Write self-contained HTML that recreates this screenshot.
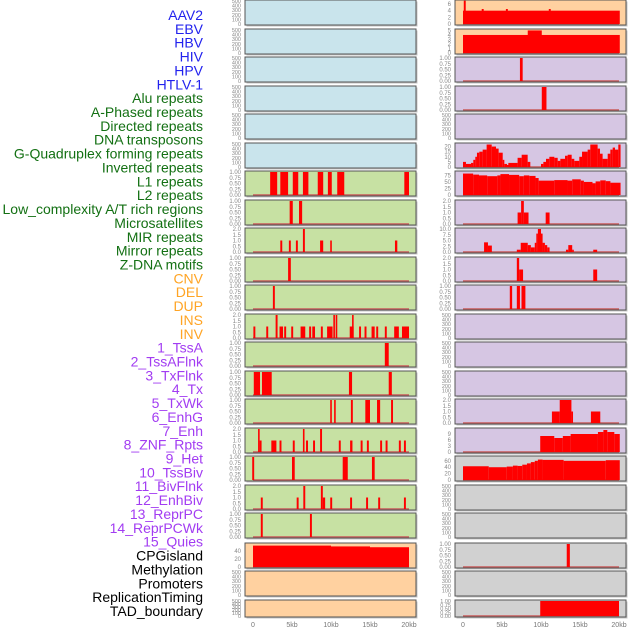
<!DOCTYPE html>
<html><head><meta charset="utf-8"><style>
html,body{margin:0;padding:0;background:#fff;width:630px;height:630px;overflow:hidden}
svg{display:block;font-family:"Liberation Sans",sans-serif}
</style></head><body>
<svg id="chart" width="630" height="630" viewBox="0 0 630 630" xmlns="http://www.w3.org/2000/svg">
<g id="labels"></g>
<g id="panels"></g>
<g id="xaxis"></g>
</svg>
<script>
// ---- data ----
const trackLabels = ["AAV2","EBV","HBV","HIV","HPV","HTLV-1","Alu repeats","A-Phased repeats","Directed repeats","DNA transposons","G-Quadruplex forming repeats","Inverted repeats","L1 repeats","L2 repeats","Low_complexity A/T rich regions","Microsatellites","MIR repeats","Mirror repeats","Z-DNA motifs","CNV","DEL","DUP","INS","INV","1_TssA","2_TssAFlnk","3_TxFlnk","4_Tx","5_TxWk","6_EnhG","7_Enh","8_ZNF_Rpts","9_Het","10_TssBiv","11_BivFlnk","12_EnhBiv","13_ReprPC","14_ReprPCWk","15_Quies","CPGisland","Methylation","Promoters","ReplicationTiming","TAD_boundary"];
const labelGroups = [6,13,5,15,5];
const groupColors = ["#2222ee","#137013","#ffa424","#a23cf2","#000000"];
const xTickValues = [0,5,10,15,20];
const xTickLabels = ["0","5kb","10kb","15kb","20kb"];

// segments: [startKb, endKb, value]
const leftRow7 = [[2.2,3.1,1],[3.5,4.5,1],[5.1,5.8,1],[6.4,7.1,1],[8.3,9.0,1],[9.6,10.1,1],[10.8,11.7,1],[19.4,20.0,1]];
const leftRow8 = [[4.7,5.1,1],[5.9,6.3,1]];
const leftRow9 = [[3.5,3.75,1],[4.6,4.85,1],[5.5,5.75,1],[6.4,6.65,2],[8.6,9.0,1],[9.9,10.1,1],[18.2,18.5,1]];
const leftRow10 = [[4.5,4.85,1]];
const leftRow11 = [[2.55,2.8,1]];
const leftRow12 = [[0.05,0.3,1],[1.7,1.95,1],[2.9,3.15,2],[3.4,3.85,1],[4.0,4.25,1],[4.9,5.15,1],[6.1,6.7,1],[7.2,7.45,1],[7.6,7.95,1],[8.7,8.95,1],[9.5,10.2,1],[10.3,10.5,2],[10.6,10.8,2],[12.4,12.9,1],[12.7,12.9,2],[13.6,13.85,1],[14.3,14.55,1],[15.2,15.6,1],[15.8,16.05,1],[16.9,17.15,1],[18.1,18.7,1],[19.1,20.0,1]];
const leftRow13 = [[16.9,17.4,1]];
const leftRow14 = [[0.1,0.9,1],[1.15,2.4,1],[12.3,12.7,1],[17.4,17.8,1]];
const leftRow15 = [[9.9,10.1,1],[10.4,10.6,1],[12.55,12.8,1],[14.4,15.0,1],[15.9,16.3,1],[17.7,17.95,1]];
const leftRow16 = [[0.65,0.85,2],[0.85,1.1,1],[2.35,3.0,1],[3.4,3.65,1],[5.1,5.35,1],[6.4,6.6,2],[6.8,7.05,1],[7.7,7.95,1],[8.6,8.85,2],[11.0,11.25,1],[12.45,12.75,1],[13.8,14.05,1],[14.6,14.85,1],[16.3,16.55,1],[17.0,17.25,1],[18.7,18.95,1],[19.35,19.6,1]];
const leftRow17 = [[-0.1,0.15,1],[5.0,5.35,1],[11.5,12.15,1],[15.25,15.6,1]];
const leftRow18 = [[1.0,1.25,1],[5.6,5.85,1],[6.45,6.7,2],[8.7,8.95,2],[8.95,9.25,1],[9.9,10.15,1],[12.45,12.7,1],[14.5,14.75,1],[16.05,16.3,1],[19.35,19.6,1]];
const leftRow19 = [[1.0,1.25,1],[7.3,7.55,1]];
const leftCpg = [[0,10,53],[10,15,51],[15,20,49]];

const rightAav2 = [[0,20.1,4],[0.1,0.35,7],[2.4,2.65,4.5],[5.5,5.75,4.5],[11.0,11.25,4.5]];
const rightEbv = [[0,20.1,4],[8.3,10.1,5]];
const rightHiv = [[7.3,7.65,1]];
const rightHpv = [[10.1,10.7,1]];
const rightG4 = [[0,0.38,5],[0.38,1.03,3],[1.03,1.32,4],[1.32,1.58,7],[1.58,1.79,10],[1.79,2.09,14],[2.09,2.52,15],[2.52,3.03,17],[3.03,3.68,22],[3.68,4.23,20],[4.23,4.57,18],[4.57,5.09,14],[5.09,5.3,7],[5.3,5.64,3],[5.64,5.81,2],[5.81,7.0,4],[7.0,7.52,9],[7.52,8.29,12],[8.29,8.63,5],[10.0,10.3,3],[10.3,10.64,5],[10.64,11.07,8],[11.07,11.71,10],[11.71,12.14,9],[12.14,12.48,6],[12.48,13.08,8],[13.08,13.42,11],[13.42,13.93,12],[13.93,14.27,8],[14.27,14.91,6],[14.91,15.26,10],[15.26,15.98,15],[15.98,16.32,17],[16.32,17.26,22],[17.26,17.56,18],[17.56,17.9,13],[17.9,18.55,8],[18.55,18.89,13],[18.89,19.19,17],[19.19,19.49,19],[19.49,19.91,17],[19.91,20.2,22]];
const rightL1 = [[0,1.3,82],[1.3,2.05,78],[2.05,3.1,75],[3.1,4.4,72],[4.4,4.8,75],[4.8,5.9,80],[5.9,7.2,77],[7.2,7.8,72],[7.8,8.5,75],[8.5,9.3,73],[9.3,9.7,65],[9.7,11.7,55],[11.7,13.4,57],[13.4,14.0,55],[14.0,15.1,60],[15.1,15.5,55],[15.5,16.6,50],[16.6,17.0,45],[17.0,17.6,52],[17.6,18.3,56],[18.3,18.9,53],[18.9,20.2,47]];
const rightRow8 = [[7.0,7.45,1],[7.45,7.8,2],[7.8,8.4,1],[10.6,11.1,1]];
const rightRow9 = [[2.7,3.2,4.2],[3.2,3.7,2.8],[6.9,7.4,1],[7.4,8.3,4],[8.3,8.7,3],[8.7,9.2,2],[9.2,9.4,4],[9.4,9.6,8],[9.6,10.0,10],[10.0,10.2,8],[10.2,10.5,4],[10.5,10.8,3],[10.8,11.1,2],[13.2,13.5,1],[13.5,14.0,3],[14.0,14.2,1],[16.7,17.2,1]];
const rightRow10 = [[6.9,7.2,2],[7.2,7.7,1],[16.7,17.2,1]];
const rightRow11 = [[6.0,6.3,1],[6.9,7.3,1],[7.5,8.0,1]];
const rightRow15 = [[11.4,12.4,1],[12.4,13.9,2],[13.9,14.1,1],[16.4,17.6,1]];
const rightRow16 = [[9.9,11.7,8],[11.7,12.8,7],[12.8,13.8,8],[13.8,17.3,9],[17.3,18.0,10],[18.0,18.5,11],[18.5,19.4,10],[19.4,20.1,9]];
const rightRow17 = [[0,3.3,43],[3.3,5.6,40],[5.6,6.4,42],[6.4,7.0,45],[7.0,7.6,44],[7.6,8.2,48],[8.2,8.7,52],[8.7,9.2,56],[9.2,9.6,60],[9.6,10.2,64],[10.2,12.9,63],[12.9,18.3,60],[18.3,20.1,62]];
const rightRow20 = [[13.3,13.7,1]];
const rightTad = [[9.9,20.0,1]];

const ticksEmpty = [0,100,200,300,400,500];
const ticksUnit = [0,0.25,0.5,0.75,1];
const ticksTwo = [0,0.5,1,1.5,2];

// ---- layout ----
const rowTops = [0,29,57,86,114,143,171,200,228,257,285,314,342,371,399,428,456,485,513,543,571,600];
const C = {blue:"#c9e4ec",green:"#c7e1a3",orange:"#ffd1a0",purple:"#d6c6e3",gray:"#d1d1d1"};
const colX = [245,455];
const W = 171;
const pxPerKb = 7.8;
const zeroOff = 8;

const leftSpec = [
 [C.blue,null,500,ticksEmpty,0],[C.blue,null,500,ticksEmpty,0],[C.blue,null,500,ticksEmpty,0],
 [C.blue,null,500,ticksEmpty,0],[C.blue,null,500,ticksEmpty,0],[C.blue,null,500,ticksEmpty,0],
 [C.green,leftRow7,1,ticksUnit,2],[C.green,leftRow8,1,ticksUnit,2],[C.green,leftRow9,2,ticksTwo,1],
 [C.green,leftRow10,1,ticksUnit,2],[C.green,leftRow11,1,ticksUnit,2],[C.green,leftRow12,2,ticksTwo,1],
 [C.green,leftRow13,1,ticksUnit,2],[C.green,leftRow14,1,ticksUnit,2],[C.green,leftRow15,1,ticksUnit,2],
 [C.green,leftRow16,2,ticksTwo,1],[C.green,leftRow17,1,ticksUnit,2],[C.green,leftRow18,2,ticksTwo,1],
 [C.green,leftRow19,1,ticksUnit,2],[C.orange,leftCpg,57,[0,20,40],0],[C.orange,null,500,ticksEmpty,0],
 [C.orange,null,500,ticksEmpty,0]];
const rightSpec = [
 [C.orange,rightAav2,6.9,[0,2,4,6],0],[C.orange,rightEbv,5.1,[0,1,2,3,4,5],0],
 [C.purple,rightHiv,1,ticksUnit,2],[C.purple,rightHpv,1,ticksUnit,2],[C.purple,null,500,ticksEmpty,0],
 [C.purple,rightG4,22.5,[0,5,10,15,20],0],[C.purple,rightL1,88,[0,25,50,75],0],
 [C.purple,rightRow8,2,ticksTwo,1],[C.purple,rightRow9,10,[0,2.5,5,7.5,10],1],
 [C.purple,rightRow10,2,ticksTwo,1],[C.purple,rightRow11,1,ticksUnit,2],
 [C.purple,null,500,ticksEmpty,0],[C.purple,null,500,ticksEmpty,0],[C.purple,null,500,ticksEmpty,0],
 [C.purple,rightRow15,2,ticksTwo,1],[C.purple,rightRow16,11.5,[0,3,6,9],0],
 [C.gray,rightRow17,72,[0,20,40,60],0],[C.gray,null,500,ticksEmpty,0],[C.gray,null,500,ticksEmpty,0],
 [C.gray,rightRow20,1,ticksUnit,2],[C.gray,null,500,ticksEmpty,0],[C.gray,rightTad,1,ticksUnit,2]];

const NS="http://www.w3.org/2000/svg";
function mk(tag,attrs,parent){const e=document.createElementNS(NS,tag);for(const k in attrs)e.setAttribute(k,attrs[k]);parent.appendChild(e);return e;}

// labels
const lg=document.getElementById('labels');
let gi=0,cnt=0;
trackLabels.forEach((t,i)=>{
  while(cnt>=labelGroups[gi]){cnt-=labelGroups[gi];gi++;}
  cnt++;
  const y=15+i*13.86+5;
  const tx=mk('text',{x:203,y:y.toFixed(1),'text-anchor':'end','font-size':'14',fill:groupColors[gi]},lg);
  tx.textContent=t;
  
  
});

// panels
const pg=document.getElementById('panels');
function drawPanel(spec,row,col){
  const [bg,data,maxV,ticks,dec]=spec;
  const top=rowTops[row], h=(row===21?17:25), x0=colX[col];
  const g=mk('g',{},pg);
  
  
  mk('rect',{x:x0+1.5,y:top+1.5,width:W,height:h,fill:'#c4c4c4'},g);
  mk('rect',{x:x0,y:top,width:W,height:h,fill:bg},g);
  const y0=top+h-1, yTop=top+1;
  const ys=v=>y0-(v/maxV)*(y0-yTop);
  const xs=kb=>x0+zeroOff+kb*pxPerKb;
  ticks.forEach(v=>{
    const t=mk('text',{x:x0-4,y:(ys(v)+2).toFixed(1),'text-anchor':'end','font-size':(maxV===500||row===21?'5.5':'6'),fill:'#888'},g);
    t.textContent = dec===0? String(v) : v.toFixed(dec);
    
    
  });
  if(data){
    const base=mk('line',{x1:xs(0),x2:xs(20),y1:y0,y2:y0,stroke:'#c85a5a','stroke-width':1.5},g);
    
    
    data.forEach(d=>{
      const yv=Math.max(yTop-1,ys(d[2]));
      const r=mk('rect',{x:xs(d[0]).toFixed(2),y:yv.toFixed(2),width:Math.max(1.6,(d[1]-d[0])*pxPerKb).toFixed(2),height:(y0-yv).toFixed(2),fill:'#ff0000'},g);
      
      
    });
  }
  mk('rect',{x:x0,y:top,width:W,height:h,fill:'none',stroke:'#555','stroke-width':1},g);
}
leftSpec.forEach((s,i)=>drawPanel(s,i,0));
rightSpec.forEach((s,i)=>drawPanel(s,i,1));

// x axis
const xg=document.getElementById('xaxis');
[0,1].forEach(c=>{
  xTickValues.forEach((v,i)=>{
    const t=mk('text',{x:colX[c]+zeroOff+v*pxPerKb,y:627,'text-anchor':'middle','font-size':'7',fill:'#777'},xg);
    t.textContent=xTickLabels[i];
    
    
  });
});
</script>
</body></html>
